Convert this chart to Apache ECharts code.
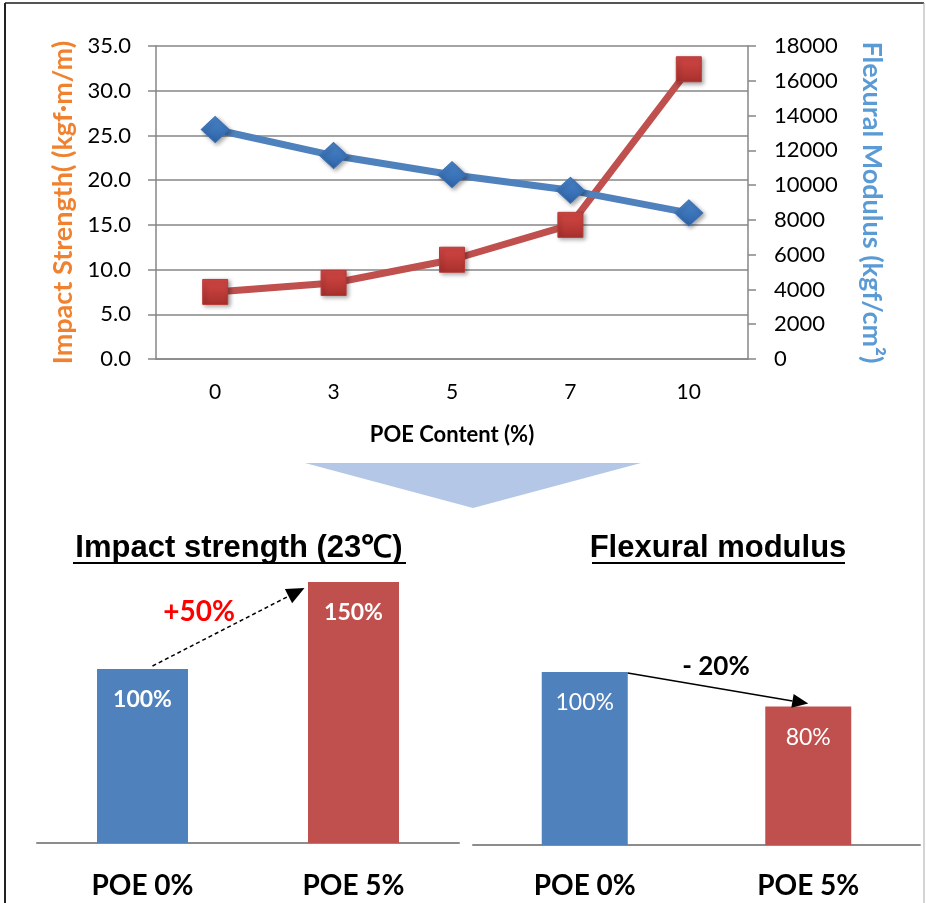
<!DOCTYPE html>
<html>
<head>
<meta charset="utf-8">
<script src="https://cdn.jsdelivr.net/npm/echarts@6/dist/echarts.min.js"></script>
<style>
html,body{margin:0;padding:0;background:#fff;}
#main{width:926px;height:903px;}
</style>
</head>
<body>
<div id="main"></div>
<script>
// ---- data ----
const poeContent = ['0', '3', '5', '7', '10'];
const impactStrength = [7.5, 8.5, 11.1, 15.0, 32.4];
const flexuralModulus = [13200, 11700, 10600, 9700, 8400];
const compareCategories = ['POE 0%', 'POE 5%'];
const impactRelative = [100, 150];
const flexuralRelative = [100, 80];
const impactChangeText = '+50%';
const flexuralChangeText = '- 20%';

const FONT = 'Lato, "Open Sans", "Noto Sans", sans-serif';
const NARROW = '"Liberation Sans Narrow", "Liberation Sans", Arial, sans-serif';
const RED = '#C0504D';
const BLUE = '#4F81BD';
const GRID = '#868686';

const chart = echarts.init(document.getElementById('main'));

const option = {
  animation: false,
  backgroundColor: '#fff',
  grid: [
    {left: 156, top: 46, width: 592, height: 313},
    {left: 37, top: 582, width: 422, height: 261},
    {left: 473, top: 672, width: 447, height: 173}
  ],
  xAxis: [
    {
      type: 'category', gridIndex: 0, data: poeContent,
      axisLine: {lineStyle: {color: GRID, width: 1.5}},
      axisTick: {show: false},
      axisLabel: {color: '#000', fontSize: 21, margin: 23, fontFamily: FONT},
      name: 'POE Content (%)', nameLocation: 'middle', nameGap: 65,
      nameTextStyle: {color: '#000', fontSize: 22, fontWeight: 'bold', fontFamily: FONT}
    },
    {
      type: 'category', gridIndex: 1, data: compareCategories,
      axisLine: {lineStyle: {color: '#8c8c8c', width: 2}},
      axisTick: {show: false},
      axisLabel: {color: '#000', fontSize: 28, fontWeight: 'bold', margin: 29, fontFamily: FONT}
    },
    {
      type: 'category', gridIndex: 2, data: compareCategories,
      axisLine: {lineStyle: {color: '#8c8c8c', width: 2}},
      axisTick: {show: false},
      axisLabel: {color: '#000', fontSize: 28, fontWeight: 'bold', margin: 27, fontFamily: FONT}
    }
  ],
  yAxis: [
    {
      type: 'value', gridIndex: 0, min: 0, max: 35, interval: 5, position: 'left',
      axisLine: {show: true, lineStyle: {color: GRID, width: 1.5}},
      axisTick: {show: true, length: 8, lineStyle: {color: GRID, width: 1.5}},
      splitLine: {show: true, lineStyle: {color: GRID, width: 1.5}},
      axisLabel: {color: '#000', fontSize: 22, margin: 25, fontFamily: FONT,
        formatter: v => v.toFixed(1)},
      name: 'Impact Strength( (kgf·m/m)', nameLocation: 'middle', nameGap: 77, nameRotate: 90,
      nameTextStyle: {color: '#F0812F', fontSize: 27, fontWeight: 'bold', fontFamily: FONT}
    },
    {
      type: 'value', gridIndex: 0, min: 0, max: 18000, interval: 2000, position: 'right',
      axisLine: {show: true, lineStyle: {color: GRID, width: 1.5}},
      axisTick: {show: true, length: 8, lineStyle: {color: GRID, width: 1.5}},
      splitLine: {show: false},
      axisLabel: {color: '#000', fontSize: 22, margin: 26, fontFamily: FONT,
        formatter: v => String(v)},
      name: 'Flexural Modulus (kgf/cm²)', nameLocation: 'middle', nameGap: 110, nameRotate: -90,
      nameTextStyle: {color: '#5B9BD5', fontSize: 27, fontWeight: 'bold', fontFamily: FONT}
    },
    {type: 'value', gridIndex: 1, min: 0, max: 150, show: false},
    {type: 'value', gridIndex: 2, min: 0, max: 100, show: false}
  ],
  series: [
    {
      type: 'line', xAxisIndex: 0, yAxisIndex: 0, data: impactStrength,
      lineStyle: {color: RED, width: 7},
      symbol: 'rect', symbolSize: 25,
      itemStyle: {
        color: new echarts.graphic.LinearGradient(0, 0, 0, 1, [
          {offset: 0, color: '#D44845'}, {offset: 1, color: '#A8302D'}]),
        borderColor: '#B83B38', borderWidth: 1,
        shadowBlur: 4, shadowColor: 'rgba(0,0,0,0.35)', shadowOffsetX: 2, shadowOffsetY: 2
      },
      z: 3
    },
    {
      type: 'line', xAxisIndex: 0, yAxisIndex: 1, data: flexuralModulus,
      lineStyle: {color: BLUE, width: 7},
      symbol: 'diamond', symbolSize: [28, 26],
      itemStyle: {
        color: new echarts.graphic.LinearGradient(0, 0, 0, 1, [
          {offset: 0, color: '#4A86CC'}, {offset: 1, color: '#2F64A8'}]),
        borderColor: '#3A70B5', borderWidth: 1,
        shadowBlur: 4, shadowColor: 'rgba(0,0,0,0.35)', shadowOffsetX: 2, shadowOffsetY: 2
      },
      z: 4
    },
    {
      type: 'bar', xAxisIndex: 1, yAxisIndex: 2, barWidth: 91,
      data: impactRelative.map((v, i) => ({value: v, itemStyle: {color: i === 0 ? BLUE : RED}})),
      label: {show: true, position: 'insideTop', distance: 19, formatter: '{c}%',
        color: '#fff', fontSize: 23, fontWeight: 'bold', fontFamily: FONT}
    },
    {
      type: 'bar', xAxisIndex: 2, yAxisIndex: 3, barWidth: 86,
      data: flexuralRelative.map((v, i) => ({value: v, itemStyle: {color: i === 0 ? BLUE : RED}})),
      label: {show: true, position: 'insideTop', distance: 19, formatter: '{c}%',
        color: '#fff', fontSize: 23, fontWeight: 'normal', fontFamily: FONT}
    }
  ]
};
chart.setOption(option);

function arrow(x1, y1, x2, y2, dashed, headLen, headW) {
  const dx = x2 - x1, dy = y2 - y1;
  const L = Math.sqrt(dx * dx + dy * dy);
  const ux = dx / L, uy = dy / L;
  const bx = x2 - ux * headLen, by = y2 - uy * headLen;
  const px = -uy, py = ux;
  return [
    {type: 'line', shape: {x1: x1, y1: y1, x2: bx, y2: by},
      style: {stroke: '#000', lineWidth: 1.5, lineDash: dashed ? [4, 3] : null}, z: 100},
    {type: 'polygon', shape: {points: [[x2, y2], [bx + px * headW, by + py * headW], [bx - px * headW, by - py * headW]]},
      style: {fill: '#000'}, z: 100}
  ];
}

const b0 = chart.convertToPixel({xAxisIndex: 1, yAxisIndex: 2}, [0, impactRelative[0]]);
const b1 = chart.convertToPixel({xAxisIndex: 1, yAxisIndex: 2}, [1, impactRelative[1]]);
const f0 = chart.convertToPixel({xAxisIndex: 2, yAxisIndex: 3}, [0, flexuralRelative[0]]);
const f1 = chart.convertToPixel({xAxisIndex: 2, yAxisIndex: 3}, [1, flexuralRelative[1]]);

const graphics = [
  // frame
  {type: 'line', shape: {x1: 5, y1: 3, x2: 924, y2: 3}, style: {stroke: '#555', lineWidth: 2}},
  {type: 'line', shape: {x1: 5, y1: 3, x2: 5, y2: 903}, style: {stroke: '#222', lineWidth: 2}},
  {type: 'line', shape: {x1: 924, y1: 3, x2: 924, y2: 903}, style: {stroke: '#aaa', lineWidth: 1}},
  // down triangle
  {type: 'polygon', shape: {points: [[305, 463], [641, 463], [473, 508]]}, style: {fill: '#B4C7E7'}},
  // titles
  {type: 'text', x: 239, y: 548, style: {text: 'Impact strength (23℃)', fill: '#000', font: 'bold 31px ' + NARROW, align: 'center', verticalAlign: 'middle'}},
  {type: 'line', shape: {x1: 73, y1: 563, x2: 406, y2: 563}, style: {stroke: '#000', lineWidth: 2}},
  {type: 'text', x: 718, y: 548, style: {text: 'Flexural modulus', fill: '#000', font: 'bold 31px ' + NARROW, align: 'center', verticalAlign: 'middle'}},
  {type: 'line', shape: {x1: 592, y1: 563, x2: 845, y2: 563}, style: {stroke: '#000', lineWidth: 2}},
  // change texts
  {type: 'text', x: 199, y: 612, style: {text: impactChangeText, fill: '#FF0000', font: 'bold 28px ' + FONT, align: 'center', verticalAlign: 'middle'}},
  {type: 'text', x: 716, y: 667, style: {text: flexuralChangeText, fill: '#000', font: 'bold 26px ' + FONT, align: 'center', verticalAlign: 'middle'}}
]
  .concat(arrow(b0[0] + 10, b0[1] - 3, b1[0] - 49, b1[1] + 6, true, 18, 8))
  .concat(arrow(f0[0] + 43, f0[1] + 1, f1[0], f1[1] - 3, false, 16, 7));

chart.setOption({graphic: graphics});
</script>
</body>
</html>
